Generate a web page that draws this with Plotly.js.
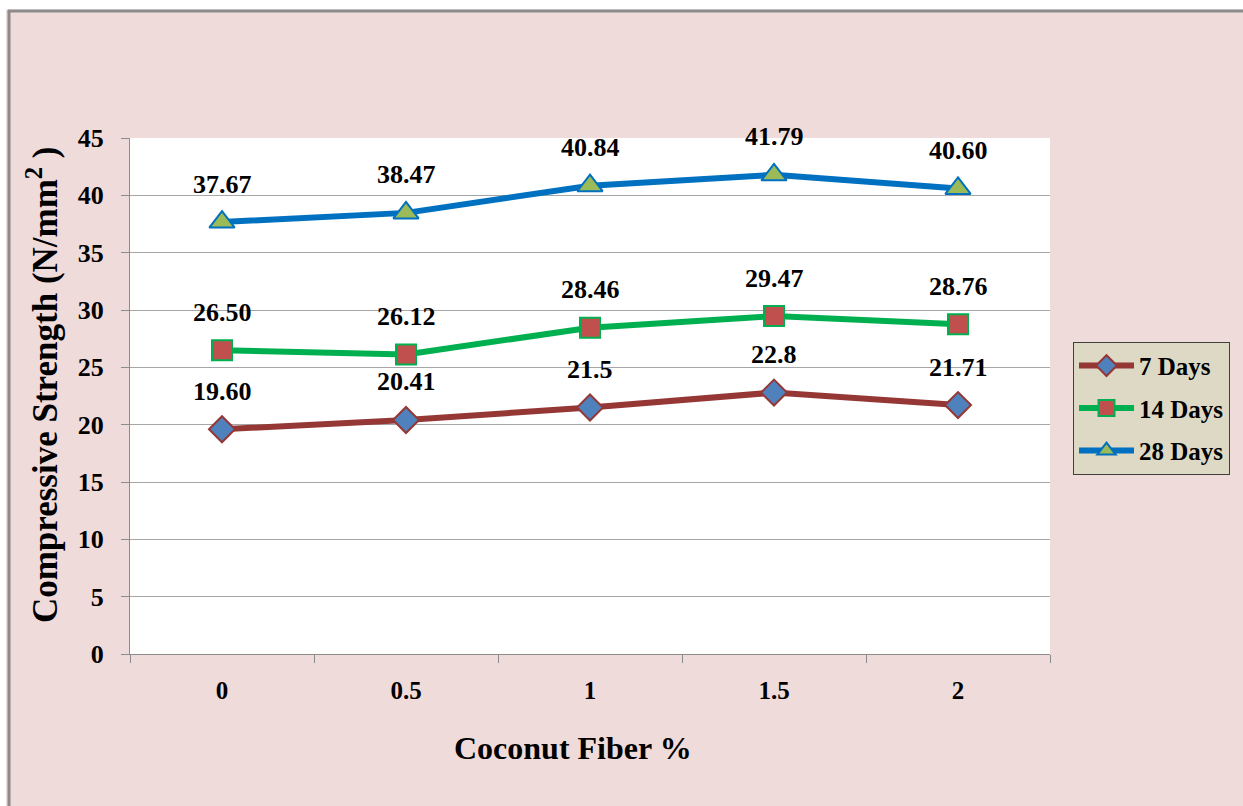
<!DOCTYPE html>
<html>
<head>
<meta charset="utf-8">
<script src="https://cdn.plot.ly/plotly-3.0.1.min.js"></script>
<style>
  html, body { margin: 0; padding: 0; background: #ffffff; }
  #chart { width: 1243px; height: 806px; }
</style>
</head>
<body>
<div id="chart"></div>
<script>
// Fibre content (%) on the x axis
const fiberLabels = ["0", "0.5", "1", "1.5", "2"];

// Compressive strength (N/mm²) as printed above each point
const labels7 = ["19.60", "20.41", "21.5", "22.8", "21.71"];
const labels14 = ["26.50", "26.12", "28.46", "29.47", "28.76"];
const labels28 = ["37.67", "38.47", "40.84", "41.79", "40.60"];

const days7 = labels7.map(Number);
const days14 = labels14.map(Number);
const days28 = labels28.map(Number);

const yTicks = [0, 5, 10, 15, 20, 25, 30, 35, 40, 45];

const serif = "Liberation Serif";

const series = [
  { name: "7 Days", y: days7, text: labels7, line: "#953735", width: 6,
    marker: { symbol: "diamond", size: 20, color: "#4F81BD", line: { color: "#953735", width: 2 } } },
  { name: "14 Days", y: days14, text: labels14, line: "#00B050", width: 6,
    marker: { symbol: "square", size: 20, color: "#C0504D", line: { color: "#00B050", width: 2 } } },
  { name: "28 Days", y: days28, text: labels28, line: "#0070C0", width: 6,
    marker: { symbol: "triangle-up", size: 22, color: "#9BBB59", line: { color: "#0070C0", width: 2 } } }
];

const traces = series.map((s, i) => ({
  type: "scatter",
  mode: "lines+markers",
  name: s.name,
  x: fiberLabels,
  y: s.y,
  line: { color: s.line, width: s.width },
  marker: s.marker,
  legendgroup: "g" + i,
  hoverinfo: "x+y"
}));

// value labels sit a fixed distance above each marker
const annotations = [];
series.forEach(s => {
  s.y.forEach((v, j) => {
    annotations.push({
      x: j, y: v, xref: "x", yref: "y",
      text: s.text[j], showarrow: false, yshift: 38,
      font: { family: serif, size: 26, color: "#000000", weight: 700 }
    });
  });
});

annotations.push({
  xref: "paper", yref: "paper", x: -0.0957, y: 0.523,
  text: "Compressive Strength (N/mm<sup>2</sup> )",
  textangle: -90, showarrow: false, xanchor: "center", yanchor: "middle",
  font: { family: serif, size: 35, color: "#000000", weight: 700 }
});

annotations.push({
  xref: "paper", yref: "paper", x: 0.4815, y: -0.182,
  xanchor: "center", yanchor: "middle", showarrow: false,
  text: "Coconut Fiber %",
  font: { family: serif, size: 32, color: "#000000", weight: 700 }
});

const layout = {
  width: 1243,
  height: 806,
  margin: { l: 130, r: 193, t: 138, b: 152 },
  paper_bgcolor: "#F0DBDB",
  plot_bgcolor: "#FFFFFF",
  showlegend: true,
  legend: {
    x: 1.025, y: 0.605, xanchor: "left", yanchor: "top",
    bgcolor: "#DDD9C4", bordercolor: "#404040", borderwidth: 1,
    font: { family: serif, size: 25, color: "#000000", weight: 700 },
    tracegroupgap: 7, traceorder: "grouped", itemwidth: 55
  },
  xaxis: {
    type: "category",
    categoryorder: "array",
    categoryarray: fiberLabels,
    range: [-0.5, 4.5],
    tickson: "boundaries",
    ticks: "outside", ticklen: 8, tickcolor: "#8C8C8C", tickwidth: 1,
    ticklabelstandoff: 14,
    showgrid: false,
    showline: true, linecolor: "#8C8C8C", linewidth: 1,
    zeroline: false,
    tickfont: { family: serif, size: 25, color: "#000000", weight: 700 },
    fixedrange: true
  },
  yaxis: {
    range: [0, 45],
    tickvals: yTicks,
    ticks: "outside", ticklen: 8, tickcolor: "#8C8C8C", tickwidth: 1,
    ticklabelstandoff: 12,
    showgrid: true, gridcolor: "#A6A6A6", gridwidth: 1,
    showline: true, linecolor: "#8C8C8C", linewidth: 1,
    zeroline: false,
    tickfont: { family: serif, size: 26, color: "#000000", weight: 700 },
    fixedrange: true
  },
  annotations: annotations,
  shapes: [
    // white margin outside the chart frame
    { type: "rect", xref: "paper", yref: "paper", x0: -0.2, x1: -0.1348, y0: -0.4, y1: 1.4,
      fillcolor: "#FFFFFF", line: { width: 0 }, layer: "below" },
    { type: "rect", xref: "paper", yref: "paper", x0: -0.2, x1: 1.3, y0: 1.249, y1: 1.4,
      fillcolor: "#FFFFFF", line: { width: 0 }, layer: "below" },
    // chart frame edges
    { type: "line", xref: "paper", yref: "paper", x0: -0.1315, x1: -0.1315, y0: -0.4, y1: 1.246,
      line: { color: "#8C8C8C", width: 3 } },
    { type: "line", xref: "paper", yref: "paper", x0: -0.133, x1: 1.3, y0: 1.246, y1: 1.246,
      line: { color: "#8C8C8C", width: 3 } }
  ]
};

Plotly.newPlot("chart", traces, layout, { displayModeBar: false, staticPlot: true });
</script>
</body>
</html>
